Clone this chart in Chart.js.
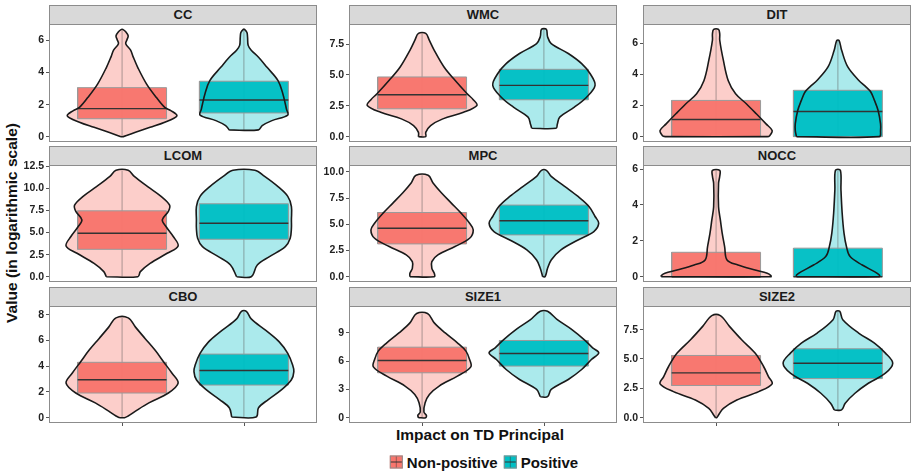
<!DOCTYPE html>
<html>
<head>
<meta charset="utf-8">
<script src="https://cdn.jsdelivr.net/npm/chart.js@4"></script>
<style>
  body { margin: 0; background: #fff; }
  #fig { position: relative; width: 911px; height: 475px; background: #fff; overflow: hidden;
         font-family: "Liberation Sans", Arial, sans-serif; }
  .strip { position: absolute; box-sizing: border-box; height: 20px; background: #d9d9d9;
           border: 1px solid #8c8c8c; text-align: center; font-weight: bold; font-size: 13px;
           line-height: 18px; color: #1a1a1a; }
  canvas { position: absolute; }
  #ytitle { position: absolute; left: 12px; top: 223px; transform: translate(-50%, -50%) rotate(-90deg);
            white-space: nowrap; font-weight: bold; font-size: 15.5px; color: #111; }
  #xtitle { position: absolute; left: 480px; top: 435px; transform: translate(-50%, -50%);
            white-space: nowrap; font-weight: bold; font-size: 15.5px; color: #111; }
  #legend { position: absolute; left: 482px; top: 462px; transform: translate(-50%, -50%);
            white-space: nowrap; font-weight: bold; font-size: 15px; color: #111; display: flex; align-items: center; }
  .key { position: relative; display: inline-block; width: 11px; height: 11px; border: 1px solid #8c8c8c;
         margin: 0 4px 0 4px; }
  .key::before { content: ''; position: absolute; left: 5px; top: 0; width: 1px; height: 11px; background: rgba(60,60,60,0.5); }
  .key::after { content: ''; position: absolute; left: 0; top: 5px; width: 11px; height: 1px; background: #333; }
</style>
</head>
<body>
<div id="fig">
  <div id="ytitle">Value (in logarithmic scale)</div>
  <div id="xtitle">Impact on TD Principal</div>
  <div id="legend">
    <span class="key" style="background:#F8766D"></span><span>Non-positive</span>
    <span class="key" style="background:#00BFC4; margin-left:6px"></span><span>Positive</span>
  </div>
</div>
<script>
const FONT = '"Liberation Sans", Arial, sans-serif';

// data
const panels = ['CC', 'WMC', 'DIT', 'LCOM', 'MPC', 'NOCC', 'CBO', 'SIZE1', 'SIZE2'];
const groups = ['Non-positive', 'Positive'];

const yTicks = [
  [0, 2, 4, 6], [0, 2.5, 5, 7.5], [0, 2, 4, 6],
  [0, 2.5, 5, 7.5, 10, 12.5], [0, 2.5, 5, 7.5, 10], [0, 2, 4, 6],
  [0, 2, 4, 6, 8], [0, 3, 6, 9], [0, 2.5, 5, 7.5]
];
const yTickLabels = [
  ['0', '2', '4', '6'], ['0.0', '2.5', '5.0', '7.5'], ['0', '2', '4', '6'],
  ['0.0', '2.5', '5.0', '7.5', '10.0', '12.5'], ['0.0', '2.5', '5.0', '7.5', '10.0'], ['0', '2', '4', '6'],
  ['0', '2', '4', '6', '8'], ['0', '3', '6', '9'], ['0.0', '2.5', '5.0', '7.5']
];

// [q1, median, q3]
const boxNonPos = [
  [1.12, 1.75, 3.06], [2.26, 3.40, 4.84], [0, 1.1, 2.33],
  [3.1, 4.92, 7.46], [3.13, 4.63, 6.13], [0, 0, 1.36],
  [1.92, 2.95, 4.31], [4.77, 6.08, 7.49], [2.74, 3.82, 5.3]
];
const boxPos = [
  [1.48, 2.29, 3.46], [2.99, 4.16, 5.46], [0, 1.62, 2.98],
  [4.24, 6.06, 8.26], [3.99, 5.34, 6.84], [0, 0, 1.59],
  [2.54, 3.67, 4.95], [5.48, 6.82, 8.2], [3.33, 4.64, 5.87]
];

// violin outline: [value, half width] from bottom to top
const violinNonPos = [
  [[0, 0.01], [0.27, 0.11], [0.58, 0.23], [0.9, 0.35], [1.3, 0.45], [1.63, 0.4], [1.83, 0.35], [2.46, 0.28],
   [3.3, 0.2], [4.3, 0.13], [5.0, 0.09], [5.4, 0.07], [5.8, 0.03], [6.05, 0.04], [6.3, 0.05], [6.55, 0.03], [6.7, 0.005]],
  [[0, 0.03], [0.35, 0.03], [0.9, 0.07], [1.44, 0.17], [1.98, 0.34], [2.53, 0.45], [3.0, 0.42], [3.48, 0.37],
   [4.57, 0.27], [5.65, 0.18], [7.0, 0.1], [7.8, 0.06], [8.37, 0.03]],
  [[0, 0.42], [0.06, 0.44], [0.39, 0.46], [0.82, 0.41], [1.47, 0.33], [2.1, 0.25], [2.76, 0.16], [3.6, 0.1],
   [4.9, 0.06], [6.2, 0.03], [6.6, 0.03], [6.9, 0.02]],
  [[0, 0.13], [0.57, 0.15], [1.5, 0.23], [2.65, 0.37], [3.48, 0.46], [4.55, 0.42], [5.68, 0.36], [6.44, 0.33],
   [7.4, 0.38], [8.1, 0.39], [9.1, 0.32], [10.2, 0.21], [11.36, 0.1], [12.05, 0.05]],
  [[0, 0.1], [0.32, 0.1], [0.8, 0.08], [1.44, 0.08], [2.08, 0.13], [2.88, 0.27], [3.67, 0.39], [4.47, 0.42],
   [5.11, 0.39], [6.07, 0.32], [7.03, 0.24], [7.99, 0.16], [8.95, 0.09], [9.68, 0.05]],
  [[0, 0.45], [0.06, 0.45], [0.19, 0.42], [0.37, 0.32], [0.65, 0.18], [0.93, 0.09], [1.68, 0.07], [2.43, 0.05],
   [3.17, 0.035], [3.9, 0.02], [5.2, 0.02], [5.6, 0.03], [5.93, 0.03]],
  [[0, 0.02], [0.13, 0.05], [0.51, 0.11], [1.15, 0.22], [1.92, 0.38], [2.69, 0.46], [3.46, 0.41], [4.36, 0.34],
   [5.26, 0.27], [6.15, 0.19], [7.05, 0.11], [7.77, 0.05]],
  [[0, 0.03], [0.25, 0.035], [0.6, 0.015], [1.59, 0.025], [2.47, 0.06], [3.36, 0.14], [4.42, 0.29], [5.4, 0.4],
   [6.18, 0.39], [7.07, 0.36], [7.95, 0.29], [9.0, 0.19], [10.07, 0.1], [11.06, 0.045]],
  [[0, 0.005], [0.23, 0.02], [0.8, 0.06], [1.51, 0.17], [2.22, 0.35], [2.88, 0.46], [3.5, 0.43], [4.36, 0.39],
   [5.5, 0.32], [6.64, 0.21], [7.78, 0.11], [8.69, 0.035]]
];
const violinPos = [
  [[0.42, 0.12], [0.69, 0.15], [1.0, 0.23], [1.35, 0.36], [1.7, 0.35], [2.04, 0.34], [2.67, 0.32], [3.5, 0.28],
   [4.33, 0.19], [4.96, 0.12], [5.4, 0.06], [5.7, 0.035], [6.2, 0.03], [6.5, 0.025], [6.7, 0.005]],
  [[0.68, 0.1], [1.0, 0.11], [1.58, 0.13], [2.39, 0.25], [3.2, 0.35], [4.16, 0.42], [5.1, 0.38], [5.92, 0.31],
   [6.74, 0.2], [7.55, 0.06], [8.1, 0.03], [8.7, 0.02]],
  [[0, 0.34], [0.39, 0.35], [0.82, 0.35], [1.68, 0.33], [2.33, 0.3], [2.87, 0.27], [3.2, 0.23], [3.63, 0.17],
   [4.5, 0.08], [5.57, 0.03], [6.18, 0.01]],
  [[0, 0.06], [1.33, 0.11], [2.27, 0.21], [3.41, 0.34], [4.36, 0.38], [5.5, 0.39], [6.44, 0.39], [7.95, 0.39],
   [9.1, 0.36], [10.2, 0.28], [11.36, 0.17], [12.05, 0.09]],
  [[0, 0.01], [0.8, 0.03], [1.6, 0.06], [2.56, 0.14], [3.51, 0.28], [4.31, 0.41], [5.11, 0.45], [5.75, 0.42],
   [6.71, 0.37], [7.67, 0.28], [8.63, 0.17], [9.58, 0.06], [10.16, 0.02]],
  [[0, 0.34], [0.09, 0.34], [0.28, 0.3], [0.65, 0.2], [1.12, 0.1], [1.68, 0.07], [2.43, 0.05], [3.54, 0.035],
   [4.85, 0.025], [5.93, 0.02]],
  [[0.05, 0.1], [0.77, 0.12], [1.41, 0.2], [2.18, 0.31], [2.95, 0.39], [3.59, 0.41], [4.1, 0.4], [5.0, 0.36],
   [5.9, 0.29], [6.79, 0.18], [7.69, 0.06], [8.28, 0.02]],
  [[2.23, 0.03], [3.0, 0.06], [4.06, 0.2], [5.12, 0.31], [6.18, 0.39], [6.89, 0.45], [7.42, 0.4], [8.3, 0.33],
   [9.36, 0.23], [10.42, 0.11], [11.3, 0.03]],
  [[0.66, 0.03], [1.23, 0.06], [2.08, 0.14], [2.93, 0.25], [3.79, 0.39], [4.64, 0.45], [5.5, 0.39], [6.35, 0.3],
   [7.21, 0.17], [8.35, 0.04], [9.06, 0.015]]
];

// layout
const colLeft = [49, 349, 643];
const panelW = 268;
const panelTop = [24, 165, 306];
const panelH = [118, 117, 117];
const AXIS_W = 44;
const PAD = 10;

const fillColors = ['rgba(248,118,109,0.36)', 'rgba(0,191,196,0.33)'];
const boxColors = ['rgba(248,118,109,0.97)', 'rgba(0,191,196,0.97)'];
const BOX_HALF = 0.365;

const fig = document.getElementById('fig');

function outline(levels, cx) {
  const left = levels.map(([y, w]) => ({ x: cx - w, y }));
  const right = levels.slice().reverse().map(([y, w]) => ({ x: cx + w, y }));
  return left.concat(right, [left[0]]);
}

function groupDatasets(levels, box, g) {
  const cx = g + 1;
  const [q1, med, q3] = box;
  const base = { showLine: true, pointRadius: 0, fill: false };
  return [
    { ...base, data: outline(levels, cx), borderWidth: 0, backgroundColor: fillColors[g],
      fill: 'shape', tension: 0.35, order: 5 },
    { ...base, data: [{ x: cx, y: levels[0][0] }, { x: cx, y: levels[levels.length - 1][0] }],
      borderColor: 'rgba(90,90,90,0.5)', borderWidth: 1, order: 4 },
    { ...base, data: [{ x: cx - BOX_HALF, y: q1 }, { x: cx + BOX_HALF, y: q1 }, { x: cx + BOX_HALF, y: q3 },
        { x: cx - BOX_HALF, y: q3 }, { x: cx - BOX_HALF, y: q1 }],
      borderColor: '#9a9a9a', borderWidth: 1, backgroundColor: boxColors[g], fill: 'shape', tension: 0, order: 3 },
    { ...base, data: [{ x: cx - BOX_HALF, y: med }, { x: cx + BOX_HALF, y: med }],
      borderColor: '#333', borderWidth: 1.4, order: 2 },
    { ...base, data: outline(levels, cx), borderColor: '#1a1a1a', borderWidth: 1.6,
      tension: 0.35, order: 1 }
  ];
}

const panelBorder = {
  id: 'panelBorder',
  afterDraw(chart, args, opts) {
    const { ctx, chartArea: a } = chart;
    ctx.save();
    ctx.strokeStyle = '#8c8c8c';
    ctx.lineWidth = 1;
    ctx.strokeRect(Math.round(a.left) + 0.5, Math.round(a.top) + 0.5, Math.round(a.width) - 1, Math.round(a.height) - 1);
    if (opts.bottomTicks) {
      ctx.strokeStyle = '#555';
      [1, 2].forEach(v => {
        const x = Math.round(chart.scales.x.getPixelForValue(v)) + 0.5;
        ctx.beginPath();
        ctx.moveTo(x, a.bottom);
        ctx.lineTo(x, a.bottom + 3);
        ctx.stroke();
      });
    }
    ctx.restore();
  }
};

panels.forEach((name, i) => {
  const row = Math.floor(i / 3), col = i % 3;

  const strip = document.createElement('div');
  strip.className = 'strip';
  strip.style.left = colLeft[col] + 'px';
  strip.style.top = (panelTop[row] - 19) + 'px';
  strip.style.width = panelW + 'px';
  strip.textContent = name;

  const canvas = document.createElement('canvas');
  canvas.width = AXIS_W + panelW + 1;
  canvas.height = panelH[row] + PAD * 2;
  canvas.style.left = (colLeft[col] - AXIS_W) + 'px';
  canvas.style.top = (panelTop[row] - PAD) + 'px';
  fig.appendChild(canvas);
  fig.appendChild(strip);

  const all = violinNonPos[i].concat(violinPos[i]).map(p => p[0]).concat(boxNonPos[i], boxPos[i]);
  const lo = Math.min(...all), hi = Math.max(...all);
  const ext = (hi - lo) * 0.05;

  new Chart(canvas, {
    type: 'scatter',
    data: {
      datasets: groupDatasets(violinNonPos[i], boxNonPos[i], 0)
        .concat(groupDatasets(violinPos[i], boxPos[i], 1))
    },
    options: {
      responsive: false,
      animation: false,
      events: [],
      layout: { padding: { top: PAD, bottom: PAD, left: 0, right: 1 } },
      plugins: {
        legend: { display: false },
        tooltip: { enabled: false },
        panelBorder: { bottomTicks: row === 2 }
      },
      scales: {
        x: { type: 'linear', min: 0.4, max: 2.6, display: false },
        y: {
          min: lo - ext,
          max: hi + ext,
          afterBuildTicks: s => { s.ticks = yTicks[i].map(v => ({ value: v })); },
          afterFit: s => { s.width = AXIS_W; },
          ticks: {
            callback: v => yTickLabels[i][yTicks[i].indexOf(v)],
            font: { family: FONT, size: 10.5, weight: 'bold' },
            color: '#222',
            padding: 2
          },
          grid: { drawOnChartArea: false, tickLength: 3, color: '#555' },
          border: { display: false }
        }
      }
    },
    plugins: [panelBorder]
  });
});
</script>
</body>
</html>
